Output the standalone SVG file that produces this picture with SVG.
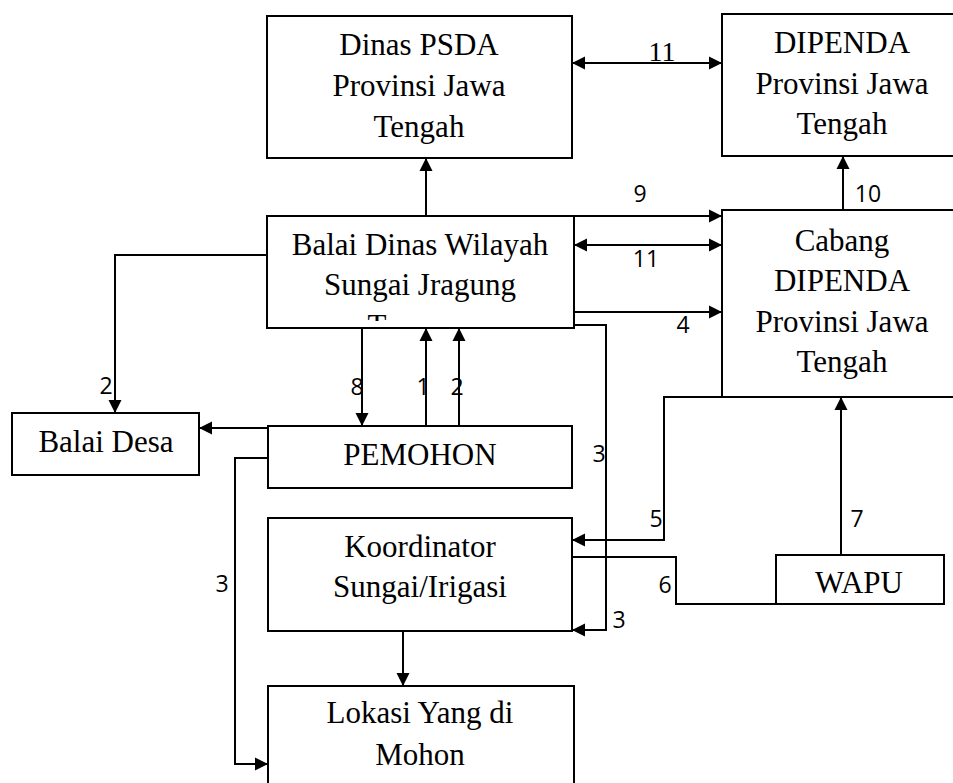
<svg xmlns="http://www.w3.org/2000/svg" width="953" height="783" viewBox="0 0 953 783">
<style>
.box{fill:#fff;stroke:#000;stroke-width:2}
.t{font-family:"Liberation Serif","Times New Roman",serif;font-size:31px;fill:#000;text-anchor:middle}
.n{font-family:"Open Sans","Liberation Sans",sans-serif;font-size:23px;fill:#000;text-anchor:middle}
.c{fill:none;stroke:#000;stroke-width:2}
</style>
<defs>
<marker id="ah" markerUnits="userSpaceOnUse" markerWidth="14" markerHeight="14" refX="13" refY="7" orient="auto">
<path d="M0,0.5 L13,7 L0,13.5 z" fill="#000"/>
</marker>
<marker id="as" markerUnits="userSpaceOnUse" markerWidth="14" markerHeight="14" refX="0" refY="7" orient="auto">
<path d="M13,0.5 L0,7 L13,13.5 z" fill="#000"/>
</marker>
<clipPath id="clipBalai"><rect x="267" y="216" width="307" height="105"/></clipPath>
</defs>
<rect width="953" height="783" fill="#fff"/>

<g id="psda">
<rect class="box" x="267" y="16" width="305" height="142"/>
<text class="t" x="419" y="55">Dinas PSDA</text>
<text class="t" x="419" y="96">Provinsi Jawa</text>
<text class="t" x="419" y="137">Tengah</text>
</g>

<g id="dipenda">
<rect class="box" x="722" y="14" width="260" height="142"/>
<text class="t" x="842" y="53">DIPENDA</text>
<text class="t" x="842" y="94">Provinsi Jawa</text>
<text class="t" x="842" y="134">Tengah</text>
</g>

<g id="balai-dinas">
<rect class="box" x="267" y="216" width="307" height="112"/>
<text class="t" x="420" y="255">Balai Dinas Wilayah</text>
<text class="t" x="420" y="295">Sungai Jragung</text>
<text class="t" x="377" y="336" clip-path="url(#clipBalai)">T</text>
</g>

<g id="cabang">
<rect class="box" x="722" y="210" width="260" height="187"/>
<text class="t" x="842" y="251">Cabang</text>
<text class="t" x="842" y="291">DIPENDA</text>
<text class="t" x="842" y="332">Provinsi Jawa</text>
<text class="t" x="842" y="372">Tengah</text>
</g>

<g id="balai-desa">
<rect class="box" x="12" y="413" width="187" height="62"/>
<text class="t" x="106" y="452">Balai Desa</text>
</g>

<g id="pemohon">
<rect class="box" x="268" y="426" width="304" height="62"/>
<text class="t" x="420" y="465">PEMOHON</text>
</g>

<g id="koordinator">
<rect class="box" x="268" y="518" width="304" height="113"/>
<text class="t" x="420" y="557">Koordinator</text>
<text class="t" x="420" y="597">Sungai/Irigasi</text>
</g>

<g id="lokasi">
<rect class="box" x="268" y="686" width="306" height="120"/>
<text class="t" x="420" y="723">Lokasi Yang di</text>
<text class="t" x="420" y="765">Mohon</text>
</g>

<g id="wapu">
<rect class="box" x="776" y="555" width="168" height="49"/>
<text class="t" x="859" y="593">WAPU</text>
</g>

<g id="connectors">
<line class="c" x1="572" y1="63" x2="722" y2="63" marker-start="url(#as)" marker-end="url(#ah)"/>
<text x="662" y="61" style="font-family:'Liberation Serif',serif;font-size:28px;text-anchor:middle">11</text>

<line class="c" x1="426" y1="216" x2="426" y2="158" marker-end="url(#ah)"/>

<line class="c" x1="843" y1="210" x2="843" y2="156" marker-end="url(#ah)"/>
<text class="n" x="868" y="202">10</text>

<line class="c" x1="574" y1="216" x2="722" y2="216" marker-end="url(#ah)"/>
<text class="n" x="640" y="202">9</text>

<line class="c" x1="574" y1="245" x2="722" y2="245" marker-start="url(#as)" marker-end="url(#ah)"/>
<text class="n" x="646" y="267">11</text>

<line class="c" x1="574" y1="312" x2="722" y2="312" marker-end="url(#ah)"/>
<text class="n" x="683" y="333">4</text>

<polyline class="c" points="574,325 606,325 606,630 572,630" marker-end="url(#ah)"/>
<text class="n" x="599" y="462">3</text>
<text class="n" x="619" y="628">3</text>

<polyline class="c" points="267,255 115,255 115,413" marker-end="url(#ah)"/>
<text class="n" x="106" y="394">2</text>

<line class="c" x1="362" y1="328" x2="362" y2="426" marker-end="url(#ah)"/>
<text class="n" x="357" y="395">8</text>

<line class="c" x1="426" y1="426" x2="426" y2="328" marker-end="url(#ah)"/>
<text class="n" x="423" y="395">1</text>

<line class="c" x1="459" y1="426" x2="459" y2="328" marker-end="url(#ah)"/>
<text class="n" x="457" y="395">2</text>

<line class="c" x1="268" y1="428" x2="199" y2="428" marker-end="url(#ah)"/>

<polyline class="c" points="268,458 235,458 235,764 268,764" marker-end="url(#ah)"/>
<text class="n" x="222" y="592">3</text>

<polyline class="c" points="722,397 664,397 664,540 572,540" marker-end="url(#ah)"/>
<text class="n" x="656" y="527">5</text>

<line class="c" x1="841" y1="555" x2="841" y2="397" marker-end="url(#ah)"/>
<text class="n" x="857" y="527">7</text>

<polyline class="c" points="572,557 676,557 676,604 776,604"/>
<text class="n" x="665" y="593">6</text>

<line class="c" x1="403" y1="631" x2="403" y2="686" marker-end="url(#ah)"/>
</g>
</svg>
